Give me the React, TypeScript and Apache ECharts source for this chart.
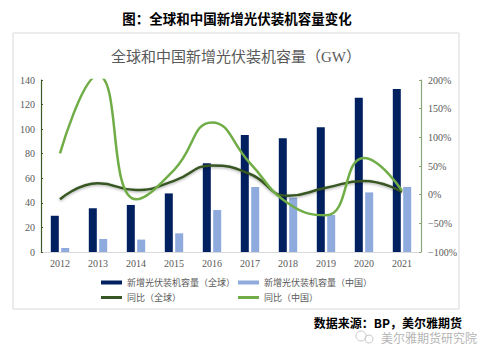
import React, { useEffect, useRef } from "react";
import * as echarts from "echarts";

const years = ["2012", "2013", "2014", "2015", "2016", "2017", "2018", "2019", "2020", "2021"];
const globalCap = [29.5, 35.6, 38.3, 47.7, 72.2, 95.2, 92.5, 101.5, 125.6, 132.7];
const chinaCap = [3.2, 10.6, 10.1, 15.2, 34.2, 53.0, 44.3, 30.1, 48.5, 53.0];
const globalYoY = [-8, 20, 8, 24, 51, 36, -2, 12, 24, 5];
const chinaYoY = [72, 208, -8, 43, 126, 55, -15, -36, 64, 7];

const seriesNames = [
  "新增光伏装机容量（全球）",
  "新增光伏装机容量（中国）",
  "同比（全球）",
  "同比（中国）",
];

const serif = "Liberation Serif, Noto Sans CJK SC, serif";
const cjk = "Noto Sans CJK SC, sans-serif";

export default function App() {
  const ref = useRef<HTMLDivElement>(null);
  useEffect(() => {
    if (!ref.current) return;
    const chart = echarts.init(ref.current, undefined, { renderer: "svg" });
    const legendText = { color: "#595959", fontSize: 9, fontFamily: serif };
    const mkLegend = (name: string, left: number, top: number, h: number) => ({
      data: [name],
      left,
      top,
      icon: "rect",
      itemWidth: 21,
      itemHeight: h,
      itemGap: 0,
      padding: 0,
      textStyle: legendText,
    });
    chart.setOption({
      animation: false,
      backgroundColor: "#ffffff",
      graphic: [
        {
          type: "rect",
          shape: { x: 13, y: 33, width: 446, height: 276 },
          style: { fill: "none", stroke: "#D9D9D9", lineWidth: 1 },
          silent: true,
        },
        {
          type: "text",
          x: 237,
          y: 18,
          style: {
            text: "图：全球和中国新增光伏装机容量变化",
            font: `bold 13.5px ${cjk}`,
            fill: "#000000",
            align: "center",
            verticalAlign: "middle",
          },
        },
        {
          type: "text",
          x: 236,
          y: 57,
          style: {
            text: "全球和中国新增光伏装机容量（GW）",
            font: `15px ${serif}`,
            fill: "#595959",
            align: "center",
            verticalAlign: "middle",
          },
        },
        {
          type: "text",
          x: 462,
          y: 322,
          style: {
            text: "数据来源：BP，美尔雅期货",
            font: `bold 12px ${cjk}`,
            fill: "#000000",
            align: "right",
            verticalAlign: "middle",
          },
        },
        {
          type: "text",
          x: 477,
          y: 337,
          style: {
            text: "美尔雅期货研究院",
            font: `12px ${cjk}`,
            fill: "#B5B5B5",
            align: "right",
            verticalAlign: "middle",
          },
        },
        {
          type: "circle",
          shape: { cx: 361, cy: 336, r: 5 },
          style: { fill: "none", stroke: "#C8C8C8", lineWidth: 1 },
        },
        {
          type: "circle",
          shape: { cx: 369, cy: 339, r: 4 },
          style: { fill: "none", stroke: "#C8C8C8", lineWidth: 1 },
        },
      ],
      legend: [
        mkLegend(seriesNames[0], 101, 278, 4),
        mkLegend(seriesNames[1], 238, 278, 4),
        mkLegend(seriesNames[2], 101, 293, 3),
        mkLegend(seriesNames[3], 238, 293, 3),
      ],
      grid: { left: 41, right: 66, top: 80, bottom: 106 },
      xAxis: {
        type: "category",
        data: years,
        axisLine: { lineStyle: { color: "#D9D9D9", width: 1 } },
        axisTick: { show: false },
        axisLabel: { color: "#595959", fontSize: 10, fontFamily: serif, margin: 6 },
      },
      yAxis: [
        {
          type: "value",
          min: 0,
          max: 140,
          interval: 20,
          axisLine: { show: true, lineStyle: { color: "#3B5A28", width: 1.2 } },
          axisTick: { show: true, inside: true, length: 2, lineStyle: { color: "#3B5A28" } },
          splitLine: { show: false },
          axisLabel: { color: "#595959", fontSize: 10, fontFamily: serif, margin: 6 },
        },
        {
          type: "value",
          min: -100,
          max: 200,
          interval: 50,
          position: "right",
          axisLine: { show: true, lineStyle: { color: "#8CA678", width: 1.2 } },
          axisTick: { show: true, inside: true, length: 2, lineStyle: { color: "#8CA678" } },
          splitLine: { show: false },
          axisLabel: {
            color: "#595959",
            fontSize: 10,
            fontFamily: serif,
            margin: 7,
            formatter: (v: number) => (v < 0 ? "\u2212" + Math.abs(v) : v) + "%",
          },
        },
      ],
      series: [
        {
          name: seriesNames[0],
          type: "bar",
          data: globalCap,
          barWidth: 8,
          barGap: "30%",
          itemStyle: { color: "#002060" },
        },
        {
          name: seriesNames[1],
          type: "bar",
          data: chinaCap,
          barWidth: 8,
          itemStyle: { color: "#8FAADC" },
        },
        {
          name: seriesNames[2],
          type: "line",
          yAxisIndex: 1,
          data: globalYoY,
          smooth: 0.5,
          symbol: "none",
          lineStyle: {
            color: "#375623",
            width: 2.5,
            shadowColor: "rgba(0,0,0,0.35)",
            shadowBlur: 3,
            shadowOffsetY: 1,
          },
          itemStyle: { color: "#375623" },
        },
        {
          name: seriesNames[3],
          type: "line",
          yAxisIndex: 1,
          data: chinaYoY,
          smooth: 0.5,
          symbol: "none",
          clip: true,
          lineStyle: { color: "#70AD47", width: 2.5 },
          itemStyle: { color: "#70AD47" },
        },
      ],
    });
    return () => chart.dispose();
  }, []);
  return (
    <div
      ref={ref}
      style={{ position: "absolute", left: 0, top: 0, width: 487, height: 358 }}
    />
  );
}
